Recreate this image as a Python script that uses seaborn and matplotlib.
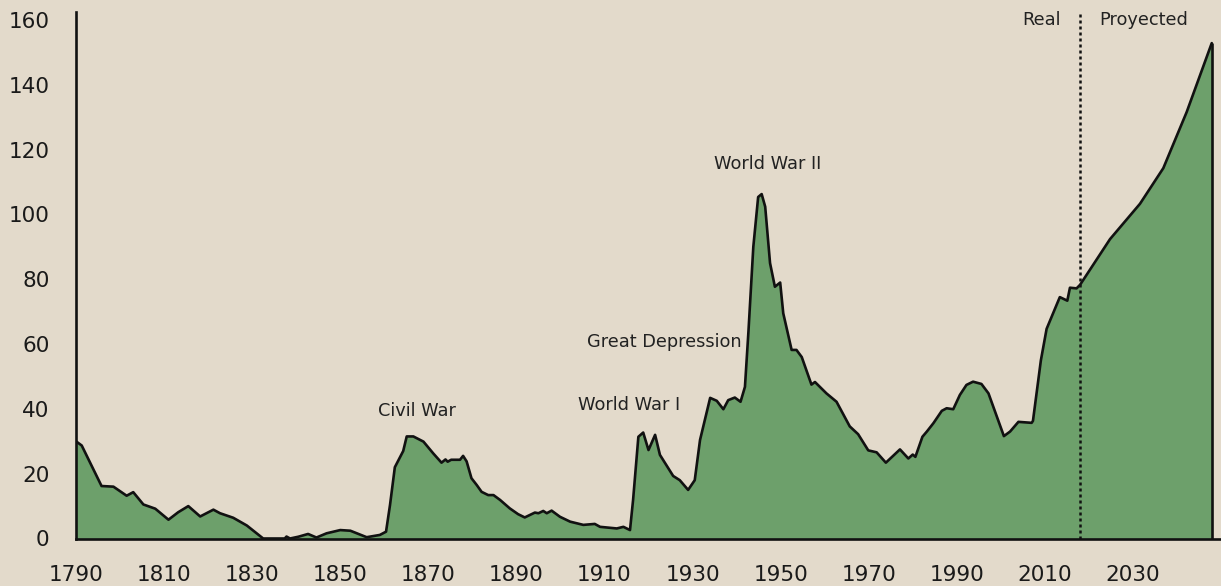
import matplotlib
matplotlib.use("Agg")
import matplotlib.pyplot as plt
import seaborn as sns
import pandas as pd

# ---- data ----
years = [1790, 1791.3, 1795.8, 1798.5, 1801.5, 1803, 1805.3, 1808, 1811, 1813.2,
         1815.5, 1818.2, 1821.2, 1822.7, 1825.7, 1828.8, 1832.5, 1837.4, 1837.8, 1838.6,
         1840.5, 1842.7, 1844.6, 1846.9, 1850, 1852.3, 1856, 1859, 1860.4, 1861.3,
         1862.4, 1864.3, 1865.1,
         1866.6, 1868.9, 1871.1, 1873, 1873.9, 1874.4, 1875.2, 1877.2, 1877.9, 1878.7,
         1879.8, 1881, 1882.1, 1883.6, 1884.8, 1886.3, 1888.5, 1890.4, 1891.9, 1894.2,
         1895, 1896.1, 1896.9, 1898, 1899.9, 1902.2, 1905.2, 1907.8, 1909, 1912.8,
         1914.3, 1915.8, 1916.5, 1917.7, 1918.8, 1920, 1921.5, 1922.6, 1925.6, 1927.1,
         1929, 1930.5, 1931.7, 1934, 1935.5, 1937, 1938.1, 1939.6, 1940.9, 1941.9,
         1942.7, 1943.8, 1944.9, 1945.7, 1946.5, 1947.6, 1948.7, 1949.9, 1950.6, 1952.5,
         1953.6, 1954.8, 1957, 1957.8, 1960.4, 1962.7, 1965.7, 1967.6, 1969.9, 1971.8,
         1973.9, 1977.1, 1979, 1980, 1980.6, 1982.2, 1983.2, 1984.7, 1986.6, 1987.7,
         1989.2, 1990.7, 1992.2, 1993.7, 1995.6, 1997.2, 1999.1, 2000.7, 2002.1, 2004,
         2007, 2007.3, 2009.1, 2010.4, 2013.4, 2015.1,
         2015.7, 2017.2, 2018, 2024.8, 2031.6, 2036.9, 2042.2, 2047.9]
debt = [30.0, 28.7, 16.2, 16.0, 13.2, 14.3, 10.5, 9.2, 5.8, 8.1,
        10.0, 6.8, 8.9, 7.8, 6.4, 4.0, 0.0, 0.0, 0.6, 0.0,
        0.55, 1.4, 0.3, 1.6, 2.6, 2.4, 0.4, 1.1, 2.1, 10.3,
        22.0, 27.0, 31.5,
        31.5, 29.9, 26.3, 23.4, 24.4, 23.7, 24.3, 24.3, 25.5, 23.8,
        18.6, 16.5, 14.4, 13.4, 13.4, 11.9, 9.3, 7.5, 6.5, 8.0,
        7.8, 8.5, 7.8, 8.6, 6.7, 5.2, 4.2, 4.5, 3.6, 3.1,
        3.6, 2.6, 11.9, 31.4, 32.7, 27.3, 32.0, 25.8, 19.3, 18.0,
        15.0, 18.0, 30.4, 43.4, 42.5, 39.9, 42.7, 43.5, 42.2, 46.8,
        64.0, 90.0, 105.4, 106.3, 102.4, 85.0, 77.7, 79.0, 69.5, 58.2,
        58.2, 56.0, 47.5, 48.3, 44.8, 42.2, 34.6, 32.2, 27.2, 26.6,
        23.4, 27.5, 24.7, 25.9, 25.2, 31.4, 33.0, 35.6, 39.4, 40.2,
        39.9, 44.3, 47.4, 48.4, 47.7, 44.8, 37.6, 31.6, 33.0, 36.0,
        35.7, 36.3, 55.0, 64.7, 74.5, 73.4,
        77.4, 77.2, 78.3, 92.4, 103.3, 114.3, 131.6, 152.9]

split_year = 2018
x_ticks = [1790, 1810, 1830, 1850, 1870, 1890, 1910, 1930, 1950, 1970, 1990, 2010, 2030]
y_ticks = [0, 20, 40, 60, 80, 100, 120, 140, 160]

event_labels = ["Civil War", "World War I", "Great Depression", "World War II"]
event_x = [1867.4, 1915.6, 1923.5, 1947.1]
event_y = [39.3, 41.2, 60.6, 115.6]

df = pd.DataFrame({"year": years, "debt": debt})

BG = "#E3DACB"
GREEN = "#6DA06B"
INK = "#111111"
TXT = "#222222"

sns.set_theme(style="white")
plt.rcParams["font.family"] = ["DejaVu Sans"]

fig = plt.figure(figsize=(12.21, 5.86), dpi=100, facecolor=BG)
ax = fig.add_axes([76 / 1221, 1 - 538.5 / 586, (1221 - 76) / 1221, (538.5 - 12) / 586])
ax.set_facecolor(BG)

ax.fill_between(df["year"], 0, df["debt"], color=GREEN, linewidth=0, zorder=1)
sns.lineplot(data=df, x="year", y="debt", ax=ax, color=INK, linewidth=1.9,
             sort=False, estimator=None, zorder=3)
ax.lines[-1].set_solid_joinstyle("round")
ax.vlines(df["year"].iloc[-1], 0, df["debt"].iloc[-1], color=INK, linewidth=1.9, zorder=3)

ax.axvline(split_year, color=INK, linewidth=1.8, linestyle=(0, (1.2, 1.2)), zorder=4)
ax.text(split_year - 4.5, 160, "Real", ha="right", va="center", fontsize=12.8, color=TXT)
ax.text(split_year + 4.3, 160, "Proyected", ha="left", va="center", fontsize=12.8, color=TXT)

for lab, xx, yy in zip(event_labels, event_x, event_y):
    ax.text(xx, yy, lab, ha="center", va="center", fontsize=12.8, color=TXT)

ax.set_xlim(1790, 2050)
ax.set_ylim(0, 162.5)
ax.set_xticks(x_ticks)
ax.set_yticks(y_ticks)
ax.tick_params(axis="both", length=0, labelsize=15.5, colors="#1a1a1a", pad=19)
ax.set_xlabel("")
ax.set_ylabel("")

for s in ["top", "right"]:
    ax.spines[s].set_visible(False)
for s in ["left", "bottom"]:
    ax.spines[s].set_color(INK)
    ax.spines[s].set_linewidth(1.9)
    ax.spines[s].set_zorder(5)

fig.savefig("out.png", dpi=100, facecolor=BG)
